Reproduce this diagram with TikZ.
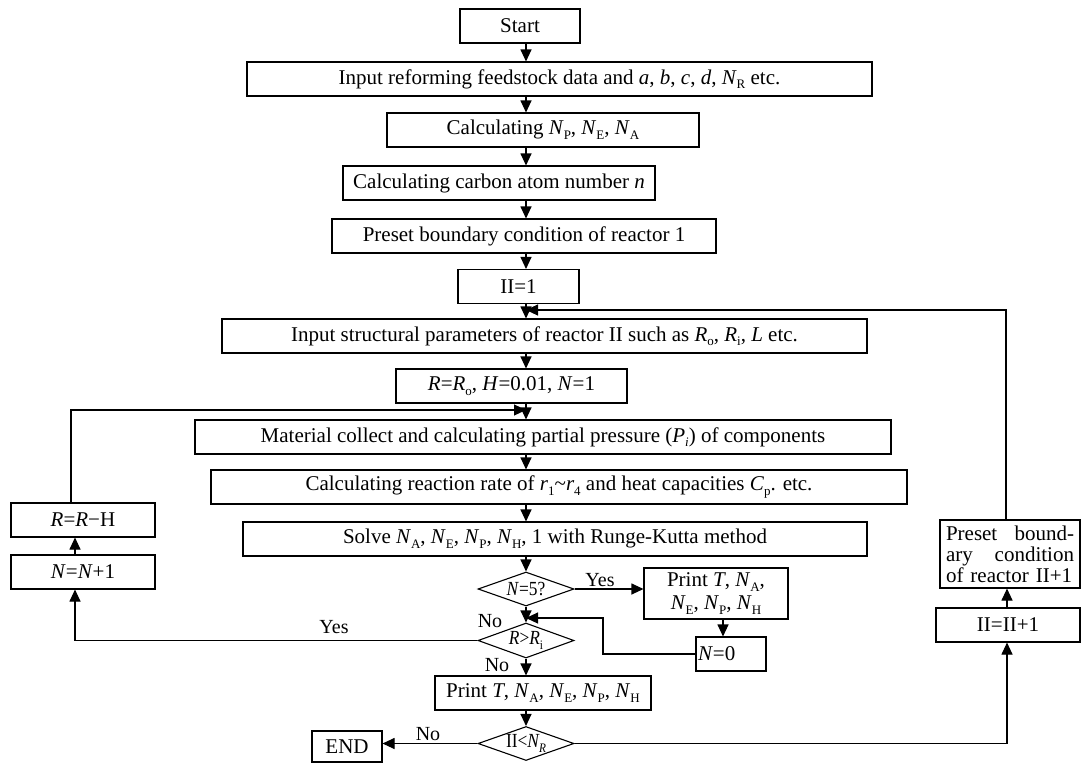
\documentclass[tikz,border=0pt]{standalone}
\usepackage{fontspec}
\setmainfont{Liberation Serif}
\usepackage{graphicx}
\usetikzlibrary{arrows.meta,shapes.geometric}
\newcommand\sbs[1]{\raisebox{-0.22em}{\fontsize{13}{13}\selectfont #1}}
\newcommand\cnd[1]{\scalebox{0.87}[1]{#1}}
\begin{document}
\begin{tikzpicture}[x=1pt,y=-1pt,
  every node/.style={font=\fontsize{21}{23}\selectfont},
  box/.style={draw, line width=1.1pt, inner sep=0pt, align=center},
  wh/.style 2 args={minimum width=#1pt, minimum height=#2pt},
  dia/.style={draw, diamond, aspect=2.8, line width=1.1pt, inner sep=0pt, minimum width=96pt, minimum height=34pt, font=\fontsize{20}{22}\selectfont},
  arr/.style={line width=1.1pt, -{Triangle[length=12pt,width=11pt]}},
  lbl/.style={font=\fontsize{20}{22}\selectfont, inner sep=0pt}]
\useasboundingbox (0,0) rectangle (1081,763);
\fill[white] (0,0) rectangle (1081,763);

% main column
\node[box, wh={120}{34}] (start) at (520,26) {Start};
\node[box, wh={625}{34}] (input) at (559.5,79) {Input reforming feedstock data and \textit{a}, \textit{b}, \textit{c}, \textit{d}, \textit{N}\sbs{R} etc.};
\node[box, wh={312}{34}] (calcnp) at (543,130) {Calculating \textit{N}\sbs{P}, \textit{N}\sbs{E}, \textit{N}\sbs{A}};
\node[box, wh={312}{34}] (carbon) at (499,183) {Calculating carbon atom number \textit{n}};
\node[box, wh={384}{34}] (preset) at (524,236) {Preset boundary condition of reactor 1};
\node[box, wh={121}{34}] (ii1) at (518.5,286.5) {II=1};
\node[box, wh={645}{34}] (instruct) at (544.5,336) {Input structural parameters of reactor II such as \textit{R}\sbs{o}, \textit{R}\sbs{i}, \textit{L} etc.};
\node[box, wh={231}{34}] (rro) at (511.5,386) {\textit{R}=\textit{R}\sbs{o}, \textit{H}=0.01, \textit{N}=1};
\node[box, wh={696}{34}] (material) at (543,437) {Material collect and calculating partial pressure (\textit{P\sbs{i}}) of components};
\node[box, wh={696}{34}] (calcrr) at (559,487) {Calculating reaction rate of \textit{r}\sbs{1}\textasciitilde\textit{r}\sbs{4} and heat capacities \textit{C}\sbs{p}. etc.};
\node[box, wh={624}{34}] (solve) at (555,539) {Solve \textit{N}\sbs{A}, \textit{N}\sbs{E}, \textit{N}\sbs{P}, \textit{N}\sbs{H}, 1 with Runge-Kutta method};
\node[dia] (n5) at (526,589) {\cnd{\textit{N}=5?}};
\node[box, wh={144}{51}] (printa) at (716,593.5) {Print \textit{T}, \textit{N}\sbs{A},\\\textit{N}\sbs{E}, \textit{N}\sbs{P}, \textit{N}\sbs{H}};
\node[box, wh={70}{34}, text width=66pt, align=left] (n0) at (731,654) {\textit{N}=0};
\node[dia, minimum height=35pt] (rri) at (526,640.5) {\cnd{\textit{R}>\textit{R}\sbs{i}}};
\node[box, wh={216}{34}] (printb) at (543,693) {Print \textit{T}, \textit{N}\sbs{A}, \textit{N}\sbs{E}, \textit{N}\sbs{P}, \textit{N}\sbs{H}};
\node[dia] (iinr) at (526,743.5) {\cnd{II<\textit{N\sbs{R}}}};
\node[box, wh={70}{31}] (end) at (347,746.5) {END};

% left loop
\node[box, wh={144}{34}] (rrh) at (83,520) {\textit{R}=\textit{R}−H};
\node[box, wh={144}{34}] (nn1) at (83,572) {\textit{N}=\textit{N}+1};

% right loop
\node[box, wh={140}{68}, text width=128pt, align=left, font=\fontsize{21}{21}\selectfont] (presetb) at (1010,554) {Preset\hfill bound-\\ary\hfill condition\\of reactor II+1};
\node[box, wh={144}{34}] (iiinc) at (1008,625) {II=II+1};

% helper coordinates
\coordinate (col) at (526,0);
\coordinate (c723) at (723,0);
\coordinate (k1) at (603,618);
\coordinate (k2) at (75,0);
\coordinate (k3) at (71,410);
\coordinate (k4) at (1007,0);
\coordinate (k5) at (1006,310);

% main arrows
\draw[arr] (start.south -| col) -- (input.north -| col);
\draw[arr] (input.south -| col) -- (calcnp.north -| col);
\draw[arr] (calcnp.south -| col) -- (carbon.north -| col);
\draw[arr] (carbon.south -| col) -- (preset.north -| col);
\draw[arr] (preset.south -| col) -- (ii1.north -| col);
\draw[arr] (ii1.south -| col) -- (instruct.north -| col);
\draw[arr] (instruct.south -| col) -- (rro.north -| col);
\draw[arr] (rro.south -| col) -- (material.north -| col);
\draw[arr] (material.south -| col) -- (calcrr.north -| col);
\draw[arr] (calcrr.south -| col) -- (solve.north -| col);
\draw[arr] (solve.south -| col) -- (n5.north);
\draw[arr] (n5.south) -- (rri.north);
\draw[arr] (rri.south) -- (printb.north -| col);
\draw[arr] (printb.south -| col) -- (iinr.north);
\draw[arr] (iinr.west) -- (end.east |- iinr.west);

% N=5 yes branch
\draw[arr] (n5.east) -- (n5.east -| printa.west);
\draw[arr] (printa.south -| c723) -- (n0.north -| c723);
\draw[arr] (n0.west) -| (k1) -- (k1 -| col);

% R>Ri yes branch (left loop)
\draw[arr] (rri.west) -| (nn1.south -| k2);
\draw[arr] (nn1.north -| k2) -- (rrh.south -| k2);
\draw[arr] (rrh.north -| k3) -- (k3) -- (k3 -| col);

% II<NR yes branch (right loop)
\draw[arr] (iinr.east) -| (iiinc.south -| k4);
\draw[arr] (iiinc.north -| k4) -- (presetb.south -| k4);
\draw[arr] (presetb.north -| k5) -- (k5) -- (k5 -| col);

% labels
\node[lbl] (yes1) at (600,580) {Yes};
\node[lbl] (no1) at (490,621) {No};
\node[lbl] (no2) at (497,665) {No};
\node[lbl] (yes2) at (334,627) {Yes};
\node[lbl] (no3) at (428,734) {No};
\end{tikzpicture}
\end{document}
